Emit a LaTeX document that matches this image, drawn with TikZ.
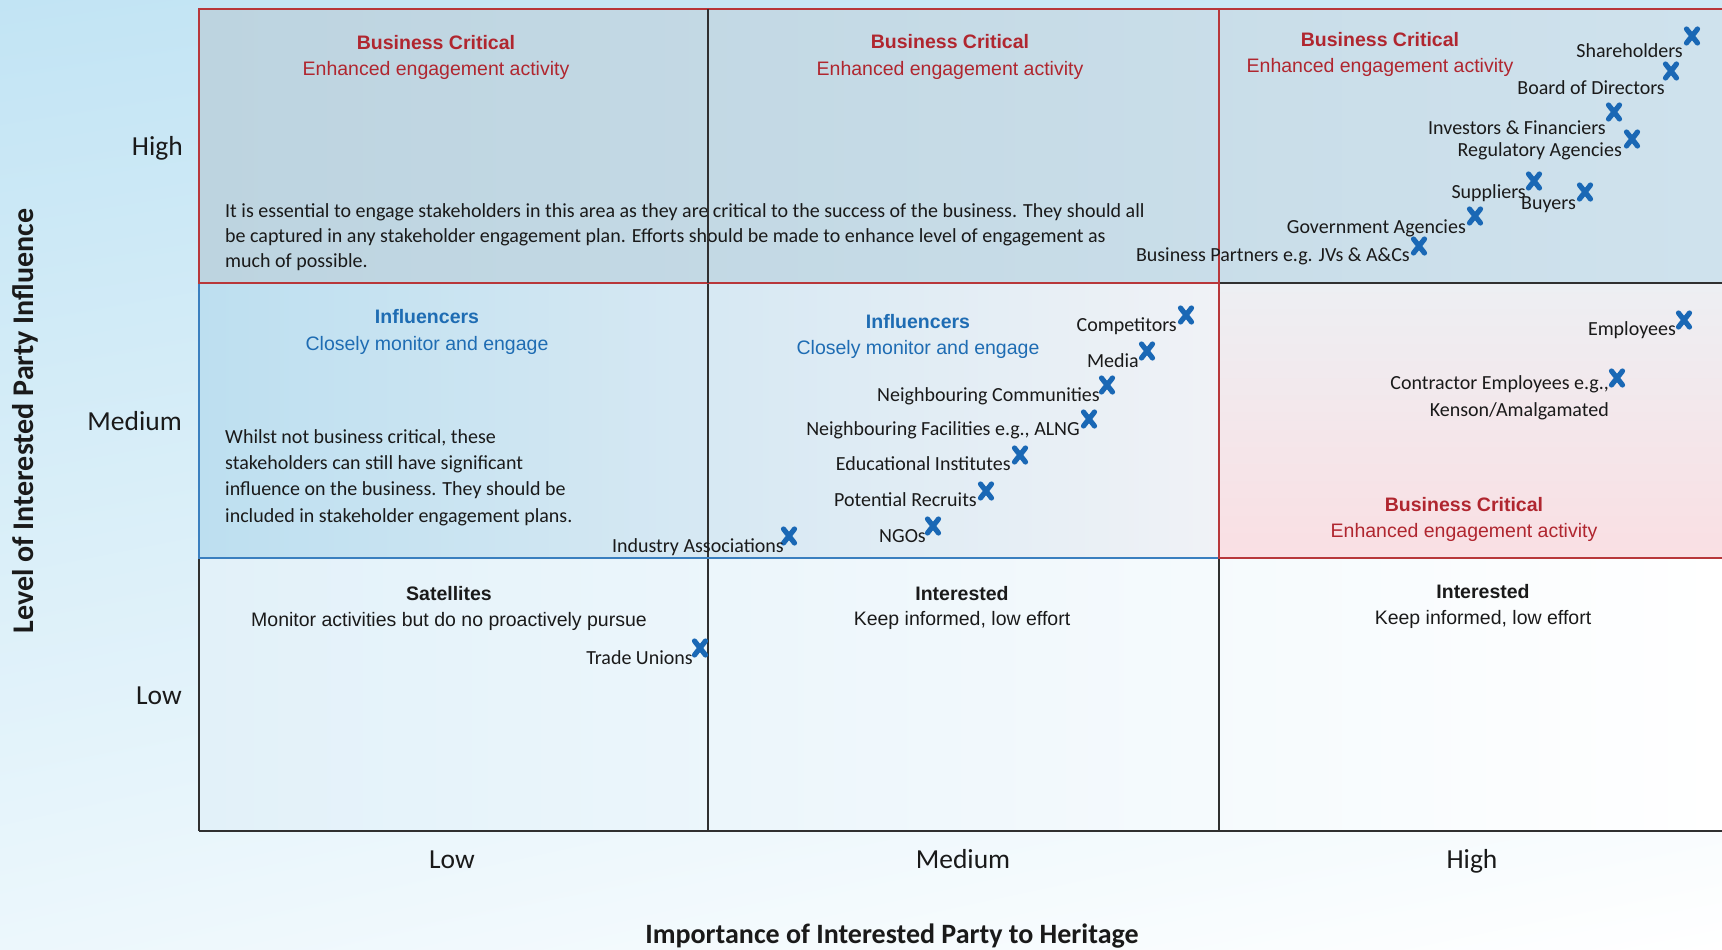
\documentclass[tikz,border=0pt]{standalone}
\usepackage{fontspec}
\setmainfont{Carlito}
\newfontfamily\arialf{Liberation Sans}
\usetikzlibrary{shadings}
\definecolor{redline}{HTML}{B8373A}
\definecolor{redtext}{HTML}{B0262F}
\definecolor{bluetext}{HTML}{1E6CB3}
\definecolor{blueline}{HTML}{3A7FBF}
\definecolor{xblue}{HTML}{1A68B5}
\definecolor{gridline}{HTML}{303030}
\definecolor{bodytext}{HTML}{1A1A1A}
% background tones
\definecolor{bgUL}{RGB}{194,228,244}
\definecolor{bgUR}{RGB}{206,233,245}
\definecolor{bgLL}{RGB}{236,247,252}
\definecolor{topA}{RGB}{189,212,224}
\definecolor{topB}{RGB}{221,228,234}
\definecolor{topC}{RGB}{207,226,237}
\definecolor{midA}{RGB}{189,223,240}
\definecolor{midB}{RGB}{200,228,242}
\definecolor{midC}{RGB}{240,242,246}
\definecolor{pinkA}{RGB}{237,239,243}
\definecolor{pinkB}{RGB}{250,223,227}
\definecolor{lowA}{RGB}{226,241,249}
\definecolor{lowB}{RGB}{247,250,253}
\tikzset{
  lbl/.style={anchor=base east, inner sep=0pt, text=bodytext, font=\fontsize{20}{25}\selectfont},
  para/.style={anchor=base west, inner sep=0pt, align=left, text=bodytext},
  cathead/.style={anchor=base, inner sep=0pt, font=\arialf\bfseries\fontsize{19.5}{23}\selectfont},
  catsub/.style={anchor=base, inner sep=0pt, font=\arialf\fontsize{19.5}{23}\selectfont},
  axlbl/.style={inner sep=0pt, text=bodytext, font=\fontsize{27.5}{30}\selectfont},
  axtitle/.style={inner sep=0pt, text=bodytext, font=\bfseries\fontsize{28}{32}\selectfont},
  rededge/.style={draw=redline, line width=2.2pt},
  blackedge/.style={draw=gridline, line width=1.3pt},
  blueedge/.style={draw=blueline, line width=1.6pt},
  xm/.pic={\draw[xblue, line width=5.2pt, line cap=round] (-5.5,-7) -- (5.5,7) (-5.5,7) -- (5.5,-7);}
}
\begin{document}
\begin{tikzpicture}[x=1pt, y=-1pt]
\useasboundingbox (0,0) rectangle (1722,950);
\clip (0,0) rectangle (1722,950);

% page background
\shade[upper left=bgUL, upper right=bgUR, lower left=bgLL, lower right=white]
  (0,0) rectangle (1722,950);

% cell fills
\shade[left color=topA, middle color=topB, right color=topC] (199,9) rectangle (1722,283);
\shade[left color=midA, middle color=midB, right color=midC] (199,283) rectangle (1219,558);
\shade[top color=pinkA, bottom color=pinkB] (1219,283) rectangle (1722,558);
\shade[left color=lowA, middle color=lowB, right color=white] (199,558) rectangle (1722,831);

% grid lines
\draw[blackedge] (708,9) -- (708,831);
\draw[blackedge] (1219,9) -- (1219,831);
\draw[blackedge] (199,558) -- (199,831);
\draw[blackedge] (1219,283) -- (1722,283);
\draw[draw=gridline, line width=2.2pt] (199,831) -- (1722,831);
\draw[blueedge] (199,283) -- (199,558) -- (1219,558);
\draw[rededge] (1219,9) -- (1722,9);
\draw[rededge] (1219,283) -- (1219,558) -- (1722,558);
\draw[rededge] (199,9) rectangle (1219,283);

% quadrant headings
\node[cathead, text=redtext] (bc1h) at (436,50) {Business Critical};
\node[catsub, text=redtext] (bc1s) at (436,75) {Enhanced engagement activity};
\node[cathead, text=redtext] (bc2h) at (950,49) {Business Critical};
\node[catsub, text=redtext] (bc2s) at (950,75) {Enhanced engagement activity};
\node[cathead, text=redtext] (bc3h) at (1380,47) {Business Critical};
\node[catsub, text=redtext] (bc3s) at (1380,73) {Enhanced engagement activity};
\node[cathead, text=bluetext] (inf1h) at (427,323) {Influencers};
\node[catsub, text=bluetext] (inf1s) at (427,350) {Closely monitor and engage};
\node[cathead, text=bluetext] (inf2h) at (918,328) {Influencers};
\node[catsub, text=bluetext] (inf2s) at (918,354) {Closely monitor and engage};
\node[cathead, text=redtext] (bc4h) at (1464,511) {Business Critical};
\node[catsub, text=redtext] (bc4s) at (1464,537) {Enhanced engagement activity};
\node[cathead, text=bodytext] (sath) at (449,600) {Satellites};
\node[catsub, text=bodytext] (sats) at (449,626) {Monitor activities but do no proactively pursue};
\node[cathead, text=bodytext] (int1h) at (962,600) {Interested};
\node[catsub, text=bodytext] (int1s) at (962,625) {Keep informed, low effort};
\node[cathead, text=bodytext] (int2h) at (1483,598) {Interested};
\node[catsub, text=bodytext] (int2s) at (1483,624) {Keep informed, low effort};

% explanatory paragraphs (anchored on the baseline of their last line)
\node[para, font=\fontsize{20}{25}\selectfont] (paracrit) at (225,267)
  {It is essential to engage stakeholders in this area as they are critical to the success of the business. They should all\\
   be captured in any stakeholder engagement plan. Efforts should be made to enhance level of engagement as\\
   much of possible.};
\node[para, font=\fontsize{20}{26.3}\selectfont] (parainf) at (225,522)
  {Whilst not business critical, these\\
   stakeholders can still have significant\\
   influence on the business. They should be\\
   included in stakeholder engagement plans.};

% column line passes over the paragraph
\draw[blackedge] (708,9) -- (708,283);

% stakeholders: markers
\pic (mSh)  at (1692,36)  {xm};
\pic (mBd)  at (1671,71)  {xm};
\pic (mInv) at (1614,112) {xm};
\pic (mReg) at (1632,139) {xm};
\pic (mSup) at (1534,181) {xm};
\pic (mBuy) at (1585,192) {xm};
\pic (mGov) at (1475,216) {xm};
\pic (mBP)  at (1419,246) {xm};
\pic (mCom) at (1186,315) {xm};
\pic (mMed) at (1147,351) {xm};
\pic (mNC)  at (1107,385) {xm};
\pic (mNF)  at (1089,419) {xm};
\pic (mEdu) at (1020,455) {xm};
\pic (mPR)  at (986,491)  {xm};
\pic (mNGO) at (933,526)  {xm};
\pic (mIA)  at (789,536)  {xm};
\pic (mEmp) at (1684,320) {xm};
\pic (mCon) at (1617,378) {xm};
\pic (mTU)  at (700,648)  {xm};

% stakeholders: names
\node[lbl] (tSh)  at (1683,58)  {Shareholders};
\node[lbl] (tBd)  at (1665,95)  {Board of Directors};
\node[lbl] (tInv) at (1606,134) {Investors \& Financiers};
\node[lbl] (tReg) at (1622,156) {Regulatory Agencies};
\node[lbl] (tSup) at (1526,198) {Suppliers};
\node[lbl] (tBuy) at (1576,209) {Buyers};
\node[lbl] (tGov) at (1466,233) {Government Agencies};
\node[lbl] (tBP)  at (1410,261) {Business Partners e.g. JVs \& A\&Cs};
\node[lbl] (tCom) at (1177,331) {Competitors};
\node[lbl] (tMed) at (1139,367) {Media};
\node[lbl] (tNC)  at (1100,401) {Neighbouring Communities};
\node[lbl] (tNF)  at (1080,435) {Neighbouring Facilities e.g., ALNG};
\node[lbl] (tEdu) at (1011,470) {Educational Institutes};
\node[lbl] (tPR)  at (977,506)  {Potential Recruits};
\node[lbl] (tNGO) at (926,542)  {NGOs};
\node[lbl] (tIA)  at (784,552)  {Industry Associations};
\node[lbl] (tEmp) at (1676,335) {Employees};
\node[lbl, align=right, font=\fontsize{20}{27}\selectfont] (tCon) at (1609,416)
  {Contractor Employees e.g.,\\Kenson/Amalgamated};
\node[lbl] (tTU)  at (693,664)  {Trade Unions};

% axis levels
\node[axlbl, anchor=base east] (yHigh) at (183,155) {High};
\node[axlbl, anchor=base east] (yMed)  at (182,430) {Medium};
\node[axlbl, anchor=base east] (yLow)  at (182,704) {Low};
\node[axlbl, anchor=base] (xLow)  at (452,868) {Low};
\node[axlbl, anchor=base] (xMed)  at (963,868) {Medium};
\node[axlbl, anchor=base] (xHigh) at (1472,868) {High};

% axis titles
\node[axtitle, anchor=base] (xtitle) at (892,943) {Importance of Interested Party to Heritage};
\node[axtitle, font=\bfseries\fontsize{30}{34}\selectfont, rotate=90] (ytitle) at (25,421) {Level of Interested Party Influence};
\end{tikzpicture}
\end{document}
